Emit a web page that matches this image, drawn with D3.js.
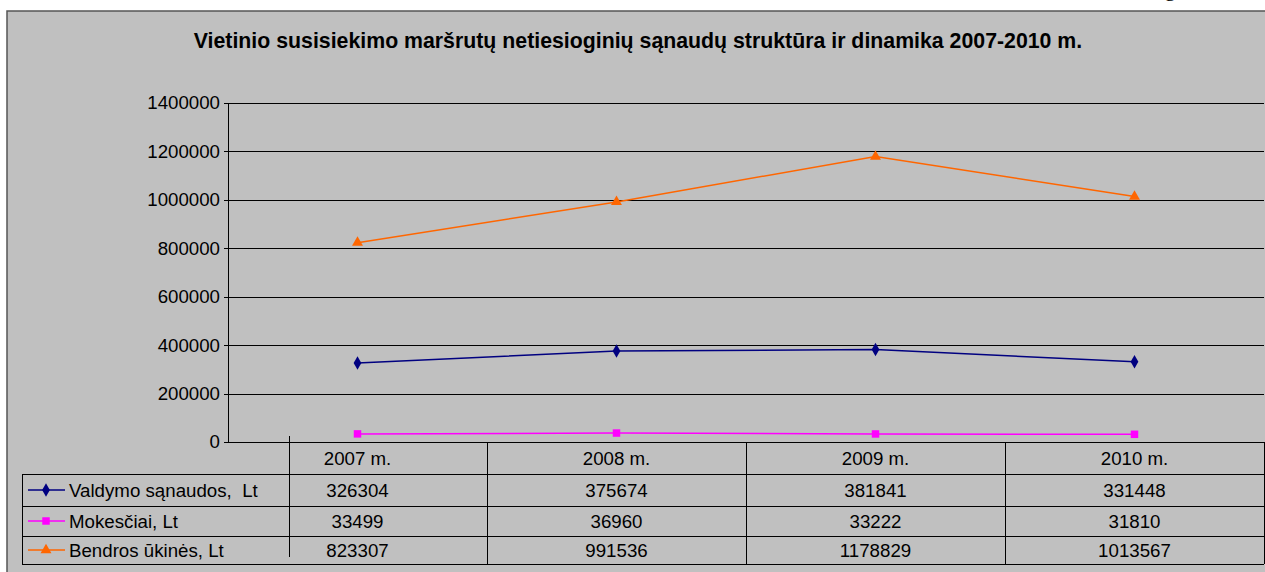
<!DOCTYPE html>
<html>
<head>
<meta charset="utf-8">
<script src="https://cdn.jsdelivr.net/npm/d3@7"></script>
<style>
  body { margin: 0; background: #fff; }
  svg { display: block; font-family: "Liberation Sans", Arial, sans-serif; }
</style>
</head>
<body>
<svg id="chart" width="1265" height="572"></svg>
<script>
const years = ['2007 m.', '2008 m.', '2009 m.', '2010 m.'];
const valdymo = [326304, 375674, 381841, 331448];
const mokesciai = [33499, 36960, 33222, 31810];
const bendros = [823307, 991536, 1178829, 1013567];
const yTicks = [0, 200000, 400000, 600000, 800000, 1000000, 1200000, 1400000];

const series = [
  { name: 'Valdymo sąnaudos,  Lt', values: valdymo, color: '#000080', marker: d3.symbolDiamond },
  { name: 'Mokesčiai, Lt', values: mokesciai, color: '#ff00ff', marker: d3.symbolSquare },
  { name: 'Bendros ūkinės, Lt', values: bendros, color: '#ff6600', marker: d3.symbolTriangle }
];

const svg = d3.select('#chart');
const fontSize = 18.7;

// plot geometry
const plotLeft = 228, plotRight = 1264, plotTop = 103, plotBottom = 442;
const rowTops = [474, 506, 536, 564];

const x = d3.scaleBand().domain(years).range([plotLeft, plotRight]);
const y = d3.scaleLinear().domain([0, 1400000]).range([plotBottom, plotTop]);

// chart background + border
svg.append('rect')
  .attr('x', 7).attr('y', 11)
  .attr('width', 1270).attr('height', 580)
  .attr('fill', '#c0c0c0')
  .attr('stroke', '#555')
  .attr('stroke-width', 1.5);

// bit of page text peeking in above the chart
svg.append('text')
  .attr('x', 1170).attr('y', -4)
  .attr('text-anchor', 'middle')
  .attr('font-family', '"Liberation Serif", serif')
  .attr('font-size', 22)
  .text('g');

svg.append('text')
  .attr('x', 638).attr('y', 48)
  .attr('text-anchor', 'middle')
  .attr('font-weight', 'bold')
  .attr('font-size', 21.3)
  .text('Vietinio susisiekimo maršrutų netiesioginių sąnaudų struktūra ir dinamika 2007-2010 m.');

// gridlines
svg.append('g')
  .attr('transform', `translate(${plotLeft},0)`)
  .call(d3.axisLeft(y).tickValues(yTicks).tickSize(-(plotRight - plotLeft)).tickFormat(''))
  .call(g => g.select('.domain').remove())
  .call(g => g.selectAll('.tick line').attr('stroke', '#000').attr('shape-rendering', 'crispEdges'));

// y axis
const yAxis = svg.append('g')
  .attr('transform', `translate(${plotLeft},0)`)
  .call(d3.axisLeft(y).tickValues(yTicks).tickSize(4).tickPadding(4).tickFormat(d3.format('d')));
yAxis.select('.domain').attr('stroke', '#000').attr('shape-rendering', 'crispEdges');
yAxis.selectAll('.tick line').attr('stroke', '#000').attr('shape-rendering', 'crispEdges');
yAxis.selectAll('.tick text')
  .attr('font-family', '"Liberation Sans", Arial, sans-serif')
  .attr('font-size', fontSize)
  .attr('fill', '#000');

// lines + markers
const line = d3.line()
  .x((d, i) => x(years[i]) + x.bandwidth() / 2)
  .y(d => y(d));

series.forEach(s => {
  svg.append('path')
    .datum(s.values)
    .attr('d', line)
    .attr('fill', 'none')
    .attr('stroke', s.color)
    .attr('stroke-width', 1.5);

  svg.append('g')
    .selectAll('path')
    .data(s.values)
    .enter()
    .append('path')
    .attr('transform', (d, i) => `translate(${x(years[i]) + x.bandwidth() / 2},${y(d)})`)
    .attr('d', d3.symbol().type(s.marker).size(s.marker === d3.symbolSquare ? 56 : 52))
    .attr('fill', s.color);
});

// data table
const table = svg.append('g')
  .attr('stroke', '#000')
  .attr('shape-rendering', 'crispEdges');

table.append('line')
  .attr('x1', plotLeft).attr('x2', plotRight)
  .attr('y1', plotBottom).attr('y2', plotBottom);

rowTops.forEach(ry => {
  table.append('line')
    .attr('x1', 22).attr('x2', plotRight)
    .attr('y1', ry).attr('y2', ry);
});

table.append('line')
  .attr('x1', 22).attr('x2', 22)
  .attr('y1', rowTops[0]).attr('y2', rowTops[3]);

table.append('line')
  .attr('x1', 289).attr('x2', 289)
  .attr('y1', 436).attr('y2', 557);

years.forEach(yr => {
  table.append('line')
    .attr('x1', x(yr) + x.bandwidth()).attr('x2', x(yr) + x.bandwidth())
    .attr('y1', plotBottom).attr('y2', rowTops[3]);
});

// header labels
svg.append('g')
  .selectAll('text')
  .data(years)
  .enter()
  .append('text')
  .attr('x', d => x(d) + x.bandwidth() / 2)
  .attr('y', 465)
  .attr('text-anchor', 'middle')
  .attr('font-size', fontSize)
  .text(d => d);

// rows
series.forEach((s, r) => {
  const cy = (rowTops[r] + rowTops[r + 1]) / 2;
  const row = svg.append('g');

  row.append('line')
    .attr('x1', 28).attr('x2', 65)
    .attr('y1', cy).attr('y2', cy)
    .attr('stroke', s.color)
    .attr('stroke-width', 1.5);

  row.append('path')
    .attr('transform', `translate(46,${cy})`)
    .attr('d', d3.symbol().type(s.marker).size(s.marker === d3.symbolSquare ? 56 : 52))
    .attr('fill', s.color);

  row.append('text')
    .attr('x', 69).attr('y', cy + 7)
    .attr('font-size', fontSize)
    .style('white-space', 'pre')
    .text(s.name);

  row.selectAll('text.val')
    .data(s.values)
    .enter()
    .append('text')
    .attr('class', 'val')
    .attr('x', (d, i) => x(years[i]) + x.bandwidth() / 2)
    .attr('y', cy + 7)
    .attr('text-anchor', 'middle')
    .attr('font-size', fontSize)
    .text(d => d);
});
</script>
</body>
</html>
